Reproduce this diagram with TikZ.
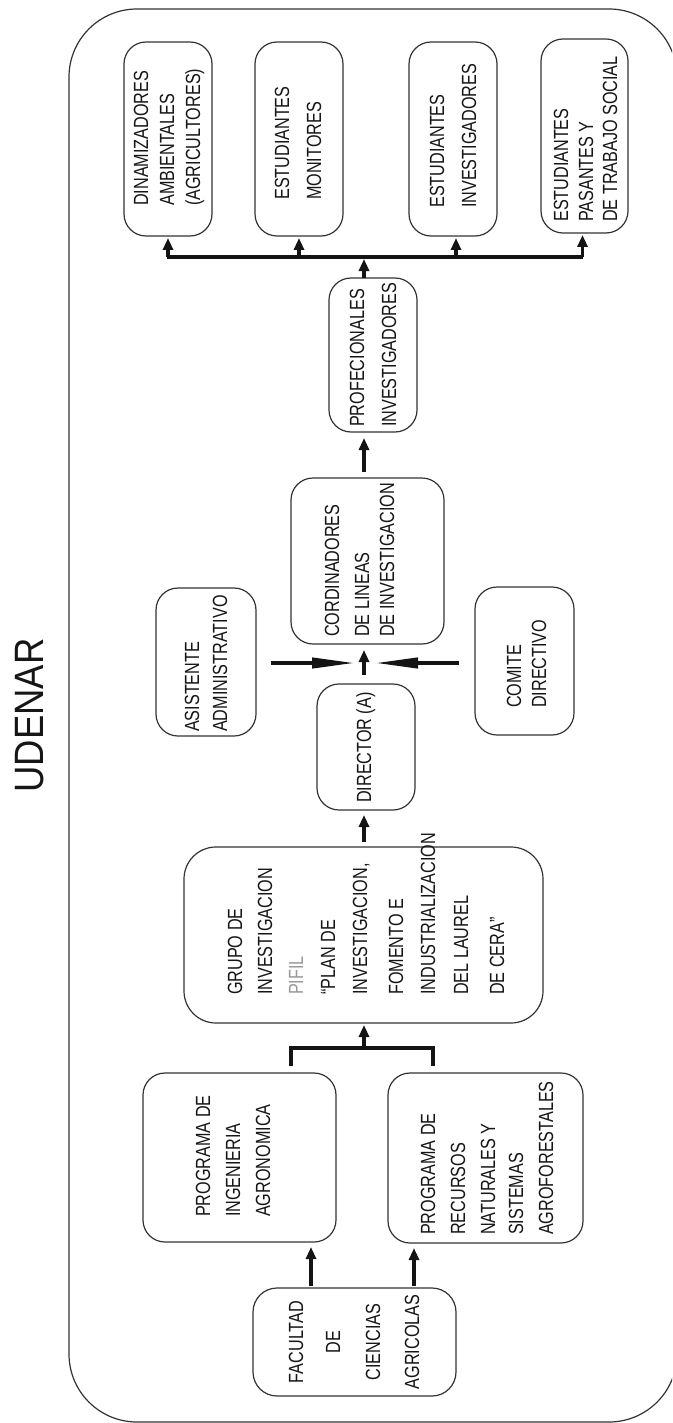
\documentclass[tikz,border=0pt]{standalone}
\usepackage{fontspec}
\newfontfamily\bxf[FakeStretch=0.79]{Liberation Sans}
\newfontfamily\udf[FakeStretch=0.89]{Liberation Sans}
\usetikzlibrary{arrows.meta}
\definecolor{ln}{HTML}{333333}
\definecolor{tx}{HTML}{161616}
\definecolor{gr}{HTML}{9A9A9A}
\newcommand\boxat[6][]{\node[box,#1,minimum width={(#5-#3)*1pt},minimum height={(#6-#4)*1pt}] (#2) at ({(#3+#5)/2},{(#4+#6)/2}) {};}
\newcommand\tl[5][]{\node[txt,anchor=base west,#1] (#2) at (#3,#4) {#5};}
\begin{document}
\begin{tikzpicture}[x=1pt,y=-1pt,
  box/.style={draw=ln,line width=1.2pt,rounded corners=22pt,inner sep=0pt,outer sep=0pt},
  txt/.style={font=\bxf\fontsize{20.5}{24}\selectfont,text=tx,inner sep=0pt,rotate=90},
  arr/.style={draw=black!92,line width=3.8pt,-{Triangle[length=12pt,width=10pt]}},
  xarr/.style={draw=black!92,line width=4.2pt,-{Triangle[length=44pt,width=10pt]}},
  barline/.style={draw=black!92,line width=4.6pt}]
\useasboundingbox (0,0) rectangle (672,1423);
\clip (0,0) rectangle (672,1423);
\fill[white] (0,0) rectangle (672,1423);
% outer frame
\draw[ln,line width=1.2pt,rounded corners=68pt] (69,9) rectangle (677,1422);
\node[font=\udf\fontsize{41}{48}\selectfont,text=tx,inner sep=0pt,rotate=90,anchor=base] (ud) at (43,715.5) {UDENAR};
% boxes
\boxat{b1}{124}{42}{212}{236}
\boxat{b2}{255}{42}{343}{236}
\boxat{b3}{409}{42}{497}{236}
\boxat{b4}{541}{39}{628}{233}
\boxat{prof}{329}{278}{417}{432}
\boxat{cord}{291}{478}{444}{644}
\boxat{asis}{156}{588}{256}{736}
\boxat{dir}{317}{684}{415}{810}
\boxat{comite}{475}{587}{574}{735}
\boxat[rounded corners=32pt]{grupo}{184}{847}{543}{1023}
\boxat{ing}{143}{1073}{336}{1242}
\boxat{rec}{388}{1073}{583}{1243}
\boxat[rounded corners=24pt]{fac}{253}{1288}{456}{1396}
% texts
\tl{b1a}{148}{206}{DINAMIZADORES}
\tl{b1b}{174}{206}{AMBIENTALES}
\tl{b1c}{200}{206}{(AGRICULTORES)}
\tl{b2a}{289}{200}{ESTUDIANTES}
\tl{b2b}{321}{200}{MONITORES}
\tl{b3a}{444}{208}{ESTUDIANTES}
\tl{b3b}{476}{208}{INVESTIGADORES}
\tl{b4a}{568}{222}{ESTUDIANTES}
\tl{b4b}{593}{222}{PASANTES Y}
\tl{b4c}{617}{222}{DE TRABAJO SOCIAL}
\tl{pra}{364}{427}{PROFECIONALES}
\tl{prb}{396}{427}{INVESTIGADORES}
\tl{coa}{339}{637}{CORDINADORES}
\tl{cob}{369}{637}{DE LINEAS}
\tl{coc}{394}{637}{DE INVESTIGACION}
\tl{asa}{199}{732}{ASISTENTE}
\tl{asb}{227}{732}{ADMINISTRATIVO}
\tl{dia}{371}{803}{DIRECTOR (A)}
\tl{cma}{521}{708}{COMITE}
\tl{cmb}{546}{708}{DIRECTIVO}
\tl{gra}{242}{995}{GRUPO DE}
\tl{grb}{272}{995}{INVESTIGACION}
\tl[text=gr]{grc}{303}{995}{PIFIL}
\tl{grd}{335}{995}{“PLAN DE}
\tl{gre}{367}{995}{INVESTIGACION,}
\tl{grf}{403}{995}{FOMENTO E}
\tl{grg}{435}{995}{INDUSTRIALIZACION}
\tl{grh}{468}{995}{DEL LAUREL}
\tl{gri}{504}{995}{DE CERA”}
\tl{ina}{210}{1217}{PROGRAMA DE}
\tl{inb}{240}{1217}{INGENIERIA}
\tl{inc}{270}{1217}{AGRONOMICA}
\tl{rea}{435}{1235}{PROGRAMA DE}
\tl{reb}{465}{1235}{RECURSOS}
\tl{rec1}{495}{1235}{NATURALES Y}
\tl{red}{523}{1235}{SISTEMAS}
\tl{ree}{553}{1235}{AGROFORESTALES}
\tl[anchor=base]{faa}{303}{1342}{FACULTAD}
\tl[anchor=base]{fab}{340}{1342}{DE}
\tl[anchor=base]{fac1}{380}{1342}{CIENCIAS}
\tl[anchor=base]{fad}{419}{1342}{AGRICOLAS}
% connectors
\coordinate (J) at (364,257);
\draw[barline] ([xshift=-1pt]b1.south |- J) -- ([xshift=-2pt]b4.south |- J);
\draw[arr] (prof.north -| J) -- ([yshift=-2pt]J);
\foreach \b/\dx in {b1/0,b2/0,b3/3,b4/-2}
  \draw[arr,shorten >=2pt] ([xshift=\dx pt]\b.south |- J) -- ([xshift=\dx pt]\b.south);
\draw[arr,shorten <=6pt,shorten >=6pt] (cord.north -| J) -- (prof.south -| J);
\draw[arr,shorten <=9pt,shorten >=6pt] (dir.north -| J) -- (cord.south -| J);
\coordinate (C) at (364,663);
\draw[xarr,shorten <=15pt,shorten >=8pt] (asis.east |- C) -- (C);
\draw[xarr,shorten <=16pt,shorten >=10pt] (comite.west |- C) -- (C);
\draw[arr,shorten <=5pt,shorten >=5pt] (grupo.north -| J) -- (dir.south -| J);
\coordinate (M) at (364,1048);
\coordinate (L1) at (291,1066);
\coordinate (L2) at (433,1066);
\draw[barline] (L1) |- (M) -| (L2);
\draw[arr,shorten >=2pt] (M) -- (grupo.south -| M);
\draw[arr,shorten <=2pt,shorten >=5pt] (fac.north -| 311,0) -- (ing.south -| 311,0);
\draw[arr,shorten <=2pt,shorten >=5pt] (fac.north -| 414,0) -- (rec.south -| 414,0);
\end{tikzpicture}
\end{document}
